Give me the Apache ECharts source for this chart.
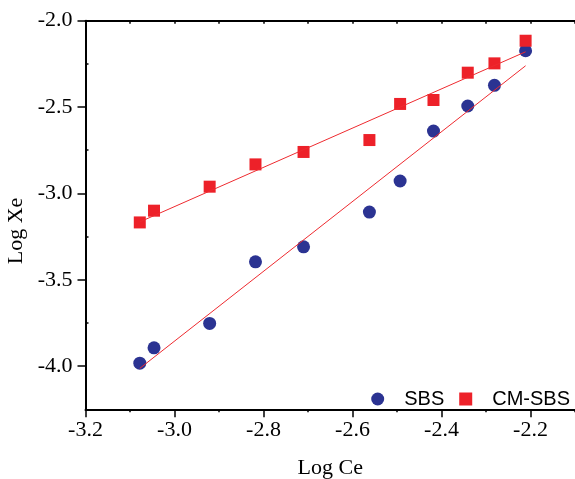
<!DOCTYPE html>
<html lang="en">
<head>
    <meta charset="UTF-8">
    <title>Log Xe vs Log Ce</title>
    <script src="https://cdn.jsdelivr.net/npm/echarts@6/dist/echarts.min.js"></script>
</head>
<body>
<div id="main" style="width: 575px;height:479px;"></div>

<script type="text/javascript">
    // data
    var logCe = [-3.078, -3.046, -2.921, -2.818, -2.710, -2.562, -2.493, -2.418, -2.341, -2.281, -2.211];
    var sbs = [-3.983, -3.894, -3.753, -3.396, -3.309, -3.108, -2.928, -2.639, -2.494, -2.374, -2.174];
    var cmSbs = [-3.168, -3.100, -2.961, -2.832, -2.760, -2.691, -2.482, -2.459, -2.301, -2.247, -2.116];
    // fitted lines (end points)
    var fitX = [-3.078, -2.211];
    var sbsFit = [-4.013, -2.261];
    var cmFit = [-3.165, -2.180];
    // tick labels
    var xTicks = [-3.2, -3.0, -2.8, -2.6, -2.4, -2.2];
    var xMinor = [-3.1, -2.9, -2.7, -2.5, -2.3, -2.1];
    var yTicks = [-4.0, -3.5, -3.0, -2.5, -2.0];
    var yMinor = [-3.75, -3.25, -2.75, -2.25];

    function pairs(xs, ys) {
        return xs.map(function (x, i) { return [x, ys[i]]; });
    }

    var serif = 'Liberation Serif';
    var myChart = echarts.init(document.getElementById('main'));
    var option = {
        animation: false,
        grid: {left: 85.5, right: 0, top: 20.7, bottom: 69.7, outerBoundsMode: 'none', containLabel: false},
        legend: {
            data: ['SBS', 'CM-SBS'],
            right: 0,
            top: 384,
            itemWidth: 13,
            itemHeight: 13,
            itemGap: 15,
            textStyle: {fontFamily: 'Liberation Sans', fontSize: 20, color: '#000', padding: [0, 0, 0, 15]}
        },
        xAxis: [
            {
                type: 'value', min: -3.2, max: -2.1, interval: 0.1,
                name: 'Log Ce', nameLocation: 'middle', nameGap: 48,
                nameTextStyle: {fontFamily: serif, fontSize: 22, color: '#000'},
                axisLine: {lineStyle: {color: '#000', width: 2}},
                axisTick: {customValues: xTicks, length: 8, lineStyle: {color: '#000', width: 1.5}},
                axisLabel: {customValues: xTicks, margin: 10, fontFamily: serif, fontSize: 22, color: '#000',
                    formatter: function (v) { return v.toFixed(1); }},
                splitLine: {show: false}
            },
            {
                type: 'value', min: -3.2, max: -2.1, interval: 0.1, position: 'bottom',
                axisLine: {show: false},
                axisTick: {customValues: xMinor, length: 3, lineStyle: {color: '#000', width: 1.5}},
                axisLabel: {show: false},
                splitLine: {show: false}
            },
            {
                type: 'value', min: -3.2, max: -2.1, interval: 0.1, position: 'top',
                axisLine: {lineStyle: {color: '#000', width: 2}},
                axisTick: {inside: true, length: 3, lineStyle: {color: '#000', width: 1.5}},
                axisLabel: {show: false},
                splitLine: {show: false}
            }
        ],
        yAxis: [
            {
                type: 'value', min: -4.25, max: -2.0, interval: 0.25,
                name: 'Log Xe', nameLocation: 'middle', nameGap: 58,
                nameTextStyle: {fontFamily: serif, fontSize: 22, color: '#000', padding: [0, 32, 0, 0]},
                axisLine: {lineStyle: {color: '#000', width: 2}},
                axisTick: {customValues: yTicks, length: 8, lineStyle: {color: '#000', width: 1.5}},
                axisLabel: {customValues: yTicks, margin: 13, fontFamily: serif, fontSize: 22, color: '#000',
                    formatter: function (v) { return v.toFixed(1); }},
                splitLine: {show: false}
            },
            {
                type: 'value', min: -4.25, max: -2.0, interval: 0.25, position: 'left',
                axisLine: {show: false},
                axisTick: {customValues: yMinor, inside: true, length: 3, lineStyle: {color: '#000', width: 1.5}},
                axisLabel: {show: false},
                splitLine: {show: false}
            }
        ],
        series: [
            {
                name: 'SBS fit', type: 'line', data: pairs(fitX, sbsFit), showSymbol: false,
                lineStyle: {color: '#ee2a2f', width: 1}, silent: true
            },
            {
                name: 'CM-SBS fit', type: 'line', data: pairs(fitX, cmFit), showSymbol: false,
                lineStyle: {color: '#ee2a2f', width: 1}, silent: true
            },
            {
                name: 'SBS', type: 'scatter', symbol: 'circle', symbolSize: 13,
                data: pairs(logCe, sbs), itemStyle: {color: '#2b3392', opacity: 1}
            },
            {
                name: 'CM-SBS', type: 'scatter', symbol: 'rect', symbolSize: 12,
                data: pairs(logCe, cmSbs), itemStyle: {color: '#ed2129', opacity: 1}
            }
        ]
    };
    myChart.setOption(option);
</script>
</body>
<style type="text/css">
    * {
        margin: 0;
        padding: 0;
    }
</style>
</html>
